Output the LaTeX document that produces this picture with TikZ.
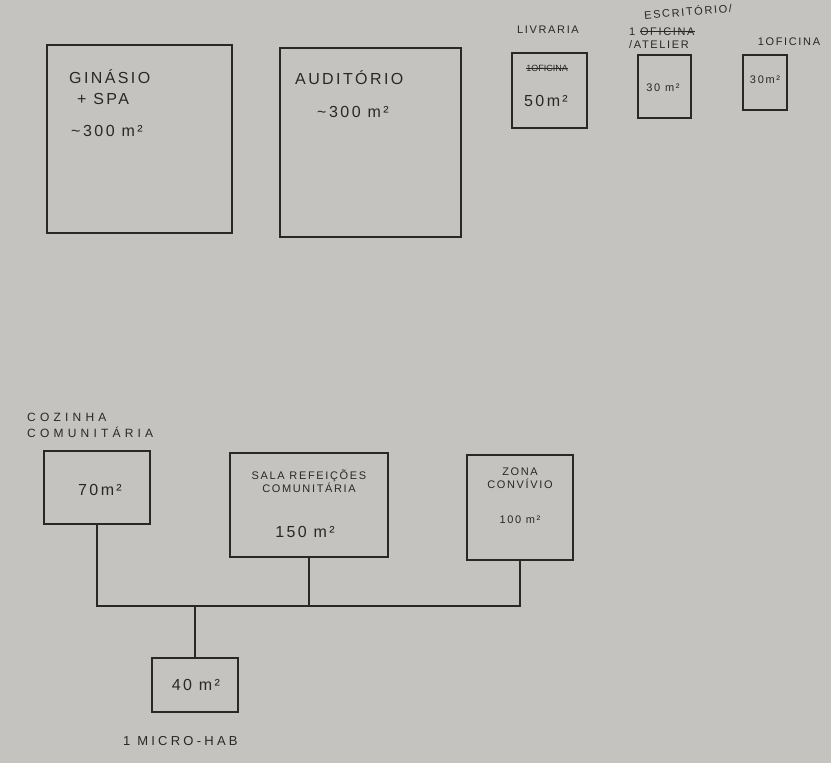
\documentclass[tikz,border=0pt]{standalone}
\usepackage{fontspec}
\setmainfont{Liberation Sans}
\definecolor{paper}{RGB}{196,195,192}
\definecolor{pen}{RGB}{40,40,40}
\newsavebox{\strkbox}
\newcommand{\strk}[1]{\sbox{\strkbox}{#1}\rlap{\usebox{\strkbox}}\rule[0.3em]{\wd\strkbox}{0.8pt}}
\begin{document}
\begin{tikzpicture}[x=1pt,y=-1pt,room_box/.style={draw=pen,line width=1.6pt,minimum width=#1,inner sep=0pt},room_text/.style={text=pen,font=\fontsize{16}{19}\selectfont\addfontfeature{LetterSpace=15},align=left,inner sep=1pt},small_text/.style={text=pen,font=\fontsize{11}{13}\selectfont\addfontfeature{LetterSpace=15},align=center,inner sep=1pt}]
		\fill[paper] (0,0) rectangle (831,763);
		\useasboundingbox (0,0) rectangle (831,763);

		\node[room_box=185pt,minimum height=188pt] (gin) at (139.5,139) {};
		\node[room_box=181pt,minimum height=189pt] (aud) at (370.5,142.5) {};
		\node[room_box=75pt,minimum height=75pt] (liv) at (549.5,90.5) {};
		\node[room_box=53pt,minimum height=63pt] (esc) at (664.5,86.5) {};
		\node[room_box=44pt,minimum height=55pt] (ofi) at (765,82.5) {};
		\node[room_box=106pt,minimum height=73pt] (coz) at (97,487.5) {};
		\node[room_box=158pt,minimum height=104pt] (sala) at (309,505) {};
		\node[room_box=106pt,minimum height=105pt] (zona) at (520,507.5) {};
		\node[room_box=86pt,minimum height=54pt] (micro) at (195,685) {};

		\node[room_text,anchor=west] (gin_t) at (68,87) {GINÁSIO\\[2pt]\hspace*{8pt}+ SPA};
		\node[room_text,anchor=west] (gin_a) at (70,131) {\textasciitilde\,300 m²};
		\node[room_text,anchor=west] (aud_t) at (294,78) {AUDITÓRIO};
		\node[room_text,anchor=west] (aud_a) at (316,112) {\textasciitilde\,300 m²};

		\node[small_text] (liv_l) at (548,30) {LIVRARIA};
		\node[small_text,font=\fontsize{9}{11}\selectfont] (liv_s) at (547,68) {\strk{1OFICINA}};
		\node[room_text] (liv_a) at (546,101) {50m²};
		\node[small_text,rotate=5] (esc_l) at (688,11) {ESCRITÓRIO/};
		\node[small_text,align=left,anchor=west] (esc_s) at (628,38) {1 \strk{OFICINA}\\/ATELIER};
		\node[small_text] (esc_a) at (663,88) {30 m²};
		\node[small_text] (ofi_l) at (789,42) {1OFICINA};
		\node[small_text] (ofi_a) at (765,80) {30m²};

		\node[small_text,font=\fontsize{12}{16}\selectfont\addfontfeature{LetterSpace=35},align=left,anchor=west] (coz_l) at (26,425) {COZINHA\\COMUNITÁRIA};
		\node[room_text] (coz_a) at (100,490) {70m²};
		\node[small_text] (sala_t) at (309,481) {SALA REFEIÇÕES\\COMUNITÁRIA};
		\node[room_text] (sala_a) at (305,532) {150 m²};
		\node[small_text] (zona_t) at (520,478) {ZONA\\CONVÍVIO};
		\node[small_text] (zona_a) at (520,520) {100 m²};
		\node[room_text] (micro_a) at (196,685) {40 m²};
		\node[small_text,font=\fontsize{13}{15}\selectfont\addfontfeature{LetterSpace=25},anchor=west] (micro_l) at (122,741) {1 MICRO-HAB};

		\coordinate (bus) at (94,606);

		\draw[pen,line width=1.6pt] (coz.south) -- (coz.south |- bus) -- (zona.south |- bus) -- (zona.south);
		\draw[pen,line width=1.6pt] (sala.south) -- (sala.south |- bus);
		\draw[pen,line width=1.6pt] (micro.north) -- (micro.north |- bus);
		\end{tikzpicture}
\end{document}
